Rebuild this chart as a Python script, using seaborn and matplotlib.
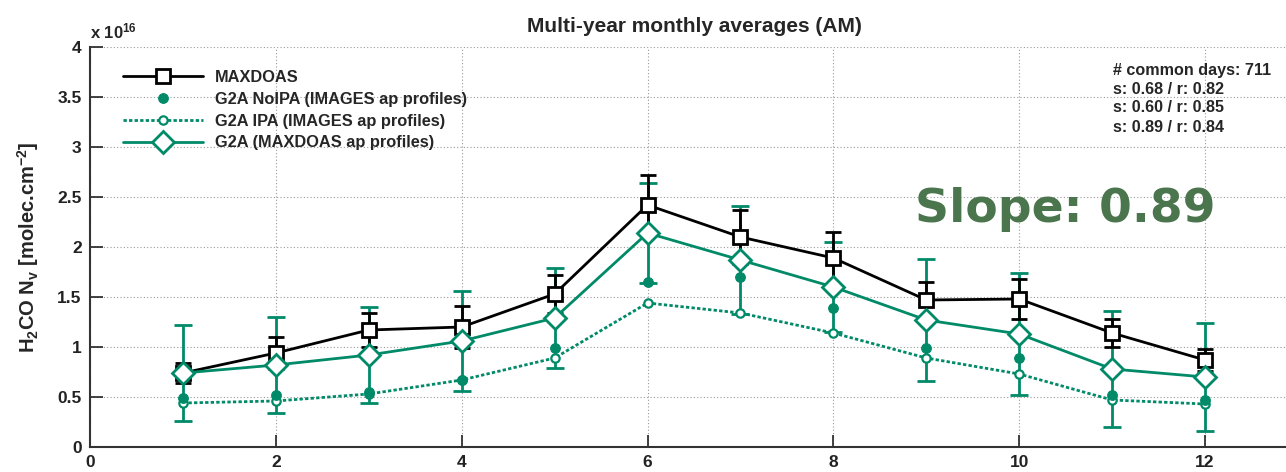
import numpy as np
import pandas as pd
import matplotlib
matplotlib.use("Agg")
import matplotlib.pyplot as plt
import seaborn as sns
from matplotlib.ticker import FuncFormatter, MultipleLocator

months = [1, 2, 3, 4, 5, 6, 7, 8, 9, 10, 11, 12]
maxdoas = [0.74, 0.94, 1.17, 1.20, 1.53, 2.42, 2.10, 1.89, 1.47, 1.48, 1.14, 0.87]
maxdoas_err = [0.10, 0.16, 0.17, 0.21, 0.19, 0.30, 0.27, 0.26, 0.18, 0.20, 0.14, 0.11]
g2a_noipa = [0.49, 0.52, 0.55, 0.67, 0.99, 1.65, 1.70, 1.39, 0.99, 0.89, 0.52, 0.47]
g2a_ipa = [0.44, 0.46, 0.53, 0.67, 0.89, 1.44, 1.34, 1.14, 0.89, 0.73, 0.47, 0.43]
g2a_max = [0.74, 0.82, 0.92, 1.06, 1.29, 2.14, 1.87, 1.60, 1.27, 1.13, 0.78, 0.70]
g2a_max_err = [0.48, 0.48, 0.48, 0.50, 0.50, 0.50, 0.54, 0.45, 0.61, 0.61, 0.58, 0.54]
stats_lines = ["# common days: 711", "s: 0.68 / r: 0.82", "s: 0.60 / r: 0.85", "s: 0.89 / r: 0.84"]
labels = ["MAXDOAS", "G2A NoIPA (IMAGES ap profiles)", "G2A IPA (IMAGES ap profiles)",
          "G2A (MAXDOAS ap profiles)"]

GREEN = "#008a68"
sns.set_style("white")
plt.rcParams["font.family"] = ["Liberation Sans", "DejaVu Sans"]
plt.rcParams["font.weight"] = "bold"
plt.rcParams["mathtext.fontset"] = "custom"
plt.rcParams["mathtext.rm"] = "Liberation Sans:bold"
plt.rcParams["mathtext.it"] = "Liberation Sans:bold"
plt.rcParams["mathtext.bf"] = "Liberation Sans:bold"
plt.rcParams["mathtext.default"] = "rm"

df = pd.DataFrame({"month": months, "maxdoas": maxdoas, "noipa": g2a_noipa,
                   "ipa": g2a_ipa, "g2amax": g2a_max})

fig = plt.figure(figsize=(12.86, 4.72), dpi=100)
ax = fig.add_axes([90 / 1286, 25 / 472, 1208 / 1286, 400 / 472])

ax.errorbar(months, g2a_max, yerr=g2a_max_err, fmt="none", ecolor=GREEN, elinewidth=2,
            capsize=6.5, capthick=2, zorder=2)
ax.errorbar(months, maxdoas, yerr=maxdoas_err, fmt="none", ecolor="black", elinewidth=2,
            capsize=6, capthick=2, zorder=3)

sns.lineplot(data=df, x="month", y="ipa", ax=ax, color=GREEN, linestyle=(0, (1.2, 0.8)),
             linewidth=2, marker="o", markersize=6, markerfacecolor="white",
             markeredgecolor=GREEN, markeredgewidth=1.6, label=labels[2], zorder=4)
sns.lineplot(data=df, x="month", y="noipa", ax=ax, color=GREEN, linestyle="none",
             marker="o", markersize=7, markerfacecolor=GREEN, markeredgecolor=GREEN,
             label=labels[1], zorder=4)
sns.lineplot(data=df, x="month", y="maxdoas", ax=ax, color="black", linewidth=2,
             marker="s", markersize=10, markerfacecolor="white", markeredgecolor="black",
             markeredgewidth=2, label=labels[0], zorder=5)
sns.lineplot(data=df, x="month", y="g2amax", ax=ax, color=GREEN, linewidth=2,
             marker="D", markersize=11, markerfacecolor="white", markeredgecolor=GREEN,
             markeredgewidth=2, label=labels[3], zorder=6)

ax.set_xlim(0, 13)
ax.set_ylim(0, 4)
ax.xaxis.set_major_locator(MultipleLocator(2))
ax.yaxis.set_major_locator(MultipleLocator(0.5))
ax.yaxis.set_major_formatter(FuncFormatter(lambda v, p: "%g" % v))
ax.xaxis.set_major_formatter(FuncFormatter(lambda v, p: "%g" % v))
ax.grid(True, linestyle=(0, (1, 2)), color="#999999", linewidth=0.8)
for s in ["top", "right"]:
    ax.spines[s].set_visible(False)
for s in ["left", "bottom"]:
    ax.spines[s].set_color("#333333")
    ax.spines[s].set_linewidth(1.5)
ax.tick_params(direction="in", length=9, width=1.2, labelsize=12.5, pad=6, colors="#222222",
               left=True, bottom=True)
for t in ax.get_xticklabels() + ax.get_yticklabels():
    t.set_fontweight("bold")
ax.set_xlabel("")
ax.set_ylabel(r"H$_2$CO N$_v$ [molec.cm$^{-2}$]", fontsize=14.5, fontweight="bold", labelpad=12)
ax.set_title("Multi-year monthly averages (AM)", fontsize=15, fontweight="bold", pad=11)
fig.text(90 / 1286, 1 - 31 / 472, r"x 10$^{16}$", fontsize=12, fontweight="bold",
         ha="left", va="center")

handles, labs = ax.get_legend_handles_labels()
order = [labs.index(l) for l in labels]
leg = ax.legend([handles[i] for i in order], [labs[i] for i in order], loc="upper left",
                bbox_to_anchor=(0.015, 0.98), frameon=False, fontsize=11.8, handlelength=4.9,
                labelspacing=0.42, handletextpad=0.7)
for t in leg.get_texts():
    t.set_fontweight("bold")

for i, line in enumerate(stats_lines):
    fig.text(1113 / 1286, 1 - (70 + i * 19) / 472, line, fontsize=11.6, fontweight="bold",
             ha="left", va="center")

fig.text(1065 / 1286, 1 - 210 / 472, "Slope: 0.89", fontsize=34, fontweight="bold",
         color="#4a754d", ha="center", va="center", family="DejaVu Sans")

fig.savefig("out.png", dpi=100)
